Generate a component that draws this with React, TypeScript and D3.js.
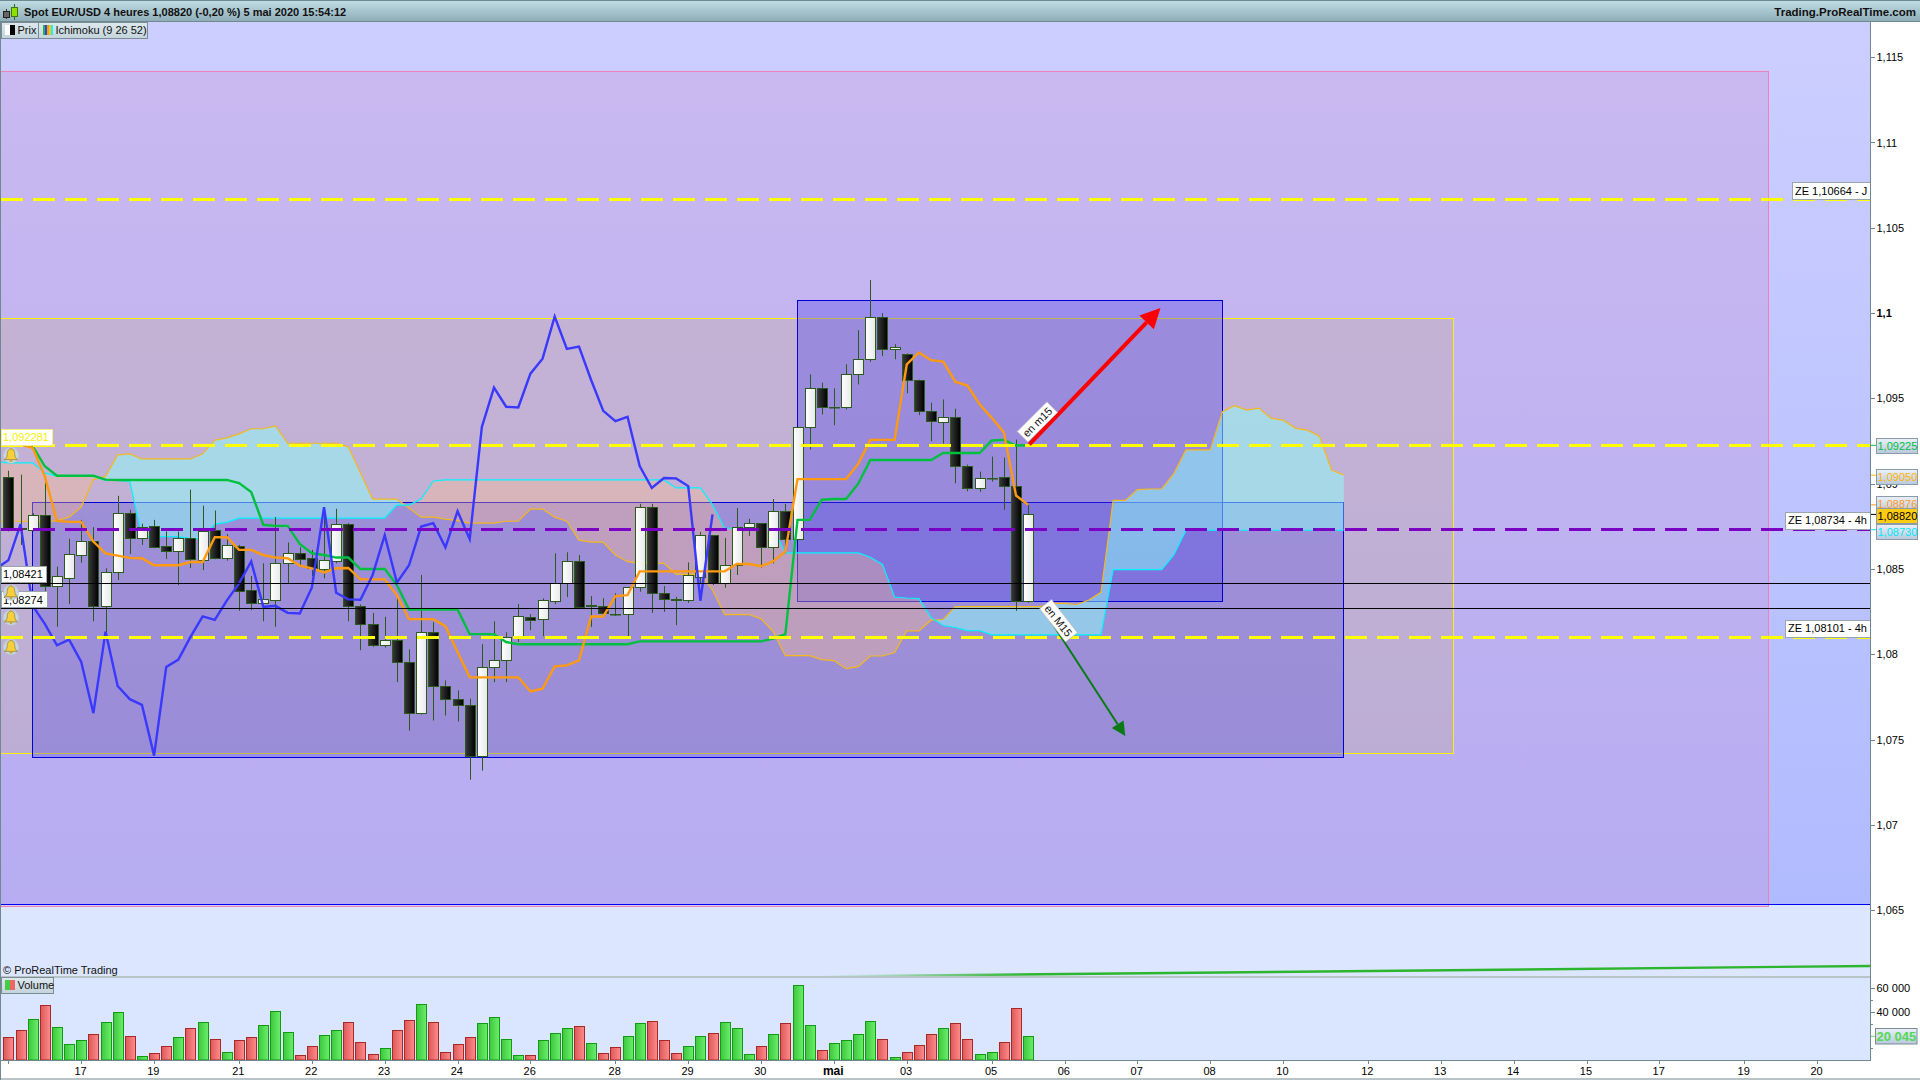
import React from 'react';
import * as d3 from 'd3';

// ---------- DATA (prices in 1e-5 units, index = 4h bar number) ----------
const opens = [109039,108733,108727,108816,108402,108449,108584,108663,108284,108480,108827,108684,108751,108633,108608,108680,108555,108727,108567,108633,108375,108302,108320,108537,108592,108563,108502,108549,108763,108286,108175,108055,108086,107957,107655,108133,107816,107739,107704,107406,107926,107969,108108,108216,108208,108314,108416,108545,108288,108286,108237,108239,108392,108863,108357,108322,108320,108455,108698,108420,108522,108749,108769,108627,108839,108675,109333,109563,109451,109451,109645,109733,109980,109792,109763,109610,109427,109363,109392,109104,108975,109033,109039,108986,108314];
const highs = [109076,109053,108827,109014,108514,108677,108788,108745,108504,108929,108847,108765,108788,108720,108720,108965,108871,108843,108704,108641,108459,108533,108804,108655,108627,108612,108863,108853,108769,108292,108243,108220,108333,108029,108465,108188,107847,107788,107739,108059,108194,108129,108294,108235,108328,108592,108598,108582,108341,108329,108357,108392,108882,108882,108400,108337,108539,108718,108698,108682,108857,108794,108769,108910,108882,109333,109641,109592,109559,109700,109900,110194,110000,109818,109763,109610,109475,109494,109439,109112,109071,109159,109153,109259,108876];
const lows = [108720,108641,108720,108367,108161,108294,108537,108194,108122,108435,108588,108641,108622,108559,108406,108506,108494,108557,108549,108255,108259,108194,108161,108416,108514,108459,108445,108533,108194,108024,108043,108039,107837,107553,107647,107612,107641,107606,107265,107318,107837,107837,108073,108141,108106,108294,108335,108269,108161,108229,108225,108102,108367,108243,108249,108171,108302,108416,108406,108390,108465,108694,108508,108533,108592,108671,109200,109406,109343,109435,109582,109714,109749,109729,109530,109402,109249,109235,109002,108955,108953,109012,108847,108255,108302];
const closes = [108729,108738,108816,108402,108457,108586,108663,108284,108480,108827,108684,108745,108631,108608,108680,108561,108722,108567,108639,108373,108302,108322,108533,108592,108561,108504,108551,108763,108284,108178,108053,108086,107955,107655,108133,107814,107737,107704,107406,107926,107969,108102,108222,108202,108316,108416,108545,108278,108284,108243,108239,108392,108863,108361,108322,108320,108465,108698,108420,108522,108749,108769,108627,108839,108675,109333,109563,109451,109447,109645,109733,109980,109790,109804,109608,109427,109367,109392,109104,108975,109033,109031,108986,108314,108820];

// Ichimoku lines; the first value of each is the bar just before the left edge (index -1)
const chikou = [108504,108551,108763,108284,108178,108053,108086,107955,107655,108133,107814,107737,107704,107406,107926,107969,108102,108222,108202,108316,108416,108545,108278,108284,108243,108239,108392,108863,108361,108322,108320,108465,108698,108420,108522,108749,108769,108627,108839,108675,109333,109563,109451,109447,109645,109733,109980,109790,109804,109608,109427,109367,109392,109104,108975,109033,109031,108986,108314,108820];
const tenkan = [109229,109229,109229,109210,109043,108782,108776,108776,108661,108592,108578,108565,108563,108522,108522,108522,108541,108541,108686,108686,108612,108612,108582,108567,108563,108520,108504,108480,108504,108506,108439,108439,108439,108347,108206,108206,108206,108165,108014,107865,107865,107865,107865,107865,107782,107798,107929,107935,107965,108222,108222,108341,108347,108486,108486,108486,108486,108486,108486,108486,108486,108529,108529,108516,108545,108602,109027,109027,109027,109027,109027,109116,109257,109257,109257,109700,109769,109724,109716,109598,109575,109465,109386,109302,108931,108876];
const kijun = [109229,109229,109229,109220,109102,109047,109047,109047,109047,109024,109022,109022,109022,109022,109022,109022,109022,109022,109022,109022,109004,108951,108759,108753,108753,108647,108592,108582,108567,108567,108500,108500,108500,108406,108263,108263,108263,108263,108263,108118,108118,108118,108072,108059,108059,108059,108059,108059,108059,108059,108059,108059,108059,108076,108076,108076,108076,108076,108076,108076,108076,108076,108076,108076,108092,108118,108788,108788,108906,108910,108910,109000,109139,109139,109139,109139,109139,109139,109180,109180,109180,109180,109253,109257,109224,109225];
const spanA = [108780,108780,108780,108778,108778,108782,108804,108863,109024,109043,109169,109175,109145,109145,109145,109145,109145,109175,109255,109269,109292,109322,109322,109339,109237,109237,109237,109237,109237,109216,109063,108910,108910,108910,108857,108804,108804,108792,108784,108769,108769,108769,108780,108780,108851,108851,108804,108780,108669,108657,108657,108582,108543,108533,108533,108533,108469,108469,108469,108377,108233,108233,108233,108208,108133,107992,107992,107992,107969,107963,107916,107928,107990,107990,108010,108137,108137,108200,108204,108280,108280,108280,108280,108280,108280,108280,108280,108298,108298,108292,108318,108363,108902,108902,108965,108969,108969,109059,109198,109198,109198,109422,109457,109431,109443,109384,109373,109326,109314,109278,109080,109051];
const spanB = [109130,109122,109122,109122,109063,109043,109043,109043,109043,109020,109020,109014,108690,108690,108690,108690,108678,108678,108763,108773,108798,108798,108798,108798,108798,108798,108798,108798,108798,108798,108798,108798,108798,108875,108875,108910,109016,109022,109022,109022,109022,109022,109022,109022,109022,109022,109022,109022,109022,109022,109022,109022,109022,109022,109022,109022,108975,108975,108975,108877,108739,108739,108739,108739,108739,108594,108594,108594,108594,108594,108594,108594,108569,108527,108336,108330,108326,108216,108169,108157,108139,108139,108114,108114,108114,108114,108114,108114,108114,108114,108114,108114,108496,108496,108496,108496,108496,108582,108727,108727,108727,108727,108727,108727,108727,108727,108727,108727,108727,108727,108727,108727];

const volumes = [19200,25000,34200,45800,27500,13300,16700,21700,31700,40000,20000,3300,5800,11700,19200,26700,31700,17500,6700,16700,19200,29200,40800,23300,4200,11700,20800,25000,31700,15000,5000,10000,25000,33300,46700,31700,6700,13300,19200,30800,35800,17500,4200,4200,16700,22500,26700,28300,14200,5800,10800,20000,30800,32500,16700,5800,11700,20000,22500,31700,26700,5000,11700,21700,30800,62500,29200,8300,14200,16700,21700,32500,17500,2500,6700,12500,21700,26700,30800,17500,5000,6700,15000,43300,20045];
const volumeUp = [0,0,1,0,1,1,1,0,1,1,0,1,0,0,1,0,1,0,1,0,0,1,1,1,0,0,1,1,0,0,0,1,0,0,1,0,0,0,0,1,1,1,1,0,1,1,1,0,1,0,0,1,1,0,0,0,1,1,0,1,1,1,0,1,0,1,1,0,1,1,1,1,0,1,0,0,0,1,0,0,1,1,0,0,1];

const priceTicks = [1.115,1.11,1.105,1.1,1.095,1.09,1.085,1.08,1.075,1.07,1.065];
const priceTickLabels = ['1,115','1,11','1,105','1,1','1,095','1,09','1,085','1,08','1,075','1,07','1,065'];
const dateTickBars = [0,6,12,19,25,31,37,43,50,56,62,68,74,81,87,93,99,105,112,118,124,130,136,143,149];
const dateTickLabels = ['','17','19','21','22','23','24','26','28','29','30','mai','03','05','06','07','08','10','12','13','14','15','17','19','20'];
const volumeTickValues = [60000,40000];
const volumeTickLabels = ['60 000','40 000'];
const volumeMinorTicks = [50000,30000,10000];

const zones = [
  { price: 1.10664, color: '#FFFF00', label: 'ZE 1,10664 - J', w: 78 },
  { price: 1.09225, color: '#FFFF00', label: '', w: 0 },
  { price: 1.08734, color: '#7A00C4', label: 'ZE 1,08734 - 4h', w: 85 },
  { price: 1.08101, color: '#FFFF00', label: 'ZE 1,08101 - 4h', w: 85 },
];
const alerts = [
  { price: 1.09225, label: '1,092281', color: '#F5F000', w: 52 },
  { price: 1.08421, label: '1,08421', color: '#000', w: 46 },
  { price: 1.08274, label: '1,08274', color: '#000', w: 47 },
  { price: 1.08101, label: '', color: '#000', w: 0 },
];
const rangeLevels = [1.08421, 1.08274];
const lastValues = [
  { price: 1.09225, label: '1,09225', color: '#00C040', top: 1.09265 },
  { price: 1.0905, label: '1,09050', color: '#FFB400', top: 1.09088 },
  { price: 1.08876, label: '1,08876', color: '#FF9A1E', top: 1.08925 },
  { price: 1.0873, label: '1,08730', color: '#00E8F8', top: 1.08765 },
  { price: 1.0882, label: '1,08820', color: '#000', top: 1.08855, gold: true },
];
const rectangles = [
  { x0: -2, x1: 145, top: 1.11419, bottom: 1.06524, fill: 'rgba(200,140,210,0.30)', stroke: '#F080B8' },
  { x0: -2, x1: 119, top: 1.09971, bottom: 1.07416, fill: 'rgba(200,170,130,0.25)', stroke: '#FFF000' },
  { x0: 2, x1: 110, top: 1.08887, bottom: 1.07393, fill: 'rgba(85,75,220,0.33)', stroke: '#0000D8' },
  { x0: 65, x1: 100, top: 1.10071, bottom: 1.08312, fill: 'rgba(70,60,235,0.33)', stroke: '#0000D8' },
];
const arrows = [
  { from: [84.1, 1.0923], to: [94.9, 1.1003], color: '#FF0000', width: 4, head: 20, label: 'en m15', off: [8, -22.5], angle: -45 },
  { from: [85.1, 1.08279], to: [92, 1.07521], color: '#0A7A14', width: 2, head: 14, label: 'en M15', off: [17, 14], angle: 52 },
];
const title = 'Spot EUR/USD 4 heures 1,08820 (-0,20 %) 5 mai 2020 15:54:12';
const siteName = 'Trading.ProRealTime.com';

// ---------- LAYOUT ----------
const W = 1920, H = 1080;
const plotL = 1, plotR = 1870, plotT = 21, plotB = 976, volT = 978, volB = 1060;
const SANS = '"Liberation Sans", Arial, sans-serif';

const x = d3.scaleLinear().domain([0, 110]).range([8.4, 1343.8]);
const y = d3.scaleLinear().domain([1.08, 1.115]).range([654.3, 57.2]);
const yP = (v: number) => y(v / 1e5);
const yVol = d3.scaleLinear().domain([0, 60000]).range([1060.3, 988.3]);
const crisp = (v: number) => Math.floor(v) + 0.5;

const lineFrom = (vals: number[]) =>
  d3.line<number>().x((_, i) => x(i - 1)).y(v => yP(v))(vals) as string;

// cloud polygons split at each crossing of the two spans
function cloudPaths() {
  const up: [number, number, number][][] = [];
  const down: [number, number, number][][] = [];
  let cur: [number, number, number][] = [];
  let curUp = spanA[0] > spanB[0];
  const flush = () => { if (cur.length > 1) (curUp ? up : down).push(cur); cur = []; };
  for (let i = 0; i < spanA.length; i++) {
    const isUp = spanA[i] >= spanB[i];
    if (i > 0 && isUp !== curUp) {
      const d0 = spanA[i - 1] - spanB[i - 1], d1 = spanA[i] - spanB[i];
      const t = d0 / (d0 - d1);
      const v = spanA[i - 1] + t * (spanA[i] - spanA[i - 1]);
      cur.push([i - 1 + t, v, v]);
      flush();
      curUp = isUp;
      cur.push([i - 1 + t, v, v]);
    }
    cur.push([i, spanA[i], spanB[i]]);
  }
  flush();
  const area = d3.area<[number, number, number]>().x(d => x(d[0] - 1)).y0(d => yP(d[1])).y1(d => yP(d[2]));
  return { up: up.map(s => area(s) as string), down: down.map(s => area(s) as string) };
}

function Bell({ cx, cy }: { cx: number; cy: number }) {
  return (
    <g transform={`translate(${cx},${cy})`}>
      <circle r={8} fill="url(#bellBg)" />
      <path d="M0,-6.5 C2.8,-6.5 3.8,-3.5 3.9,-0.5 C4,2 5,3.2 6.5,4.3 L-6.5,4.3 C-5,3.2 -4,2 -3.9,-0.5 C-3.8,-3.5 -2.8,-6.5 0,-6.5Z" fill="#F6CF3A" stroke="#8C7A2A" strokeWidth={0.7} />
      <circle cy={5.3} r={1.4} fill="#C9A52A" />
    </g>
  );
}

export default function App() {
  const cloud = cloudPaths();
  const bodyW = 10;
  return (
    <svg width={W} height={H} viewBox={`0 0 ${W} ${H}`} style={{ position: 'fixed', left: 0, top: 0, display: 'block', background: '#fff' }} fontFamily={SANS}>
      <defs>
        <linearGradient id="titleBg" x1="0" y1="0" x2="0" y2="1"><stop offset="0" stopColor="#C2DEE6" /><stop offset="1" stopColor="#8FAEB8" /></linearGradient>
        <linearGradient id="plotBg" x1="0" y1="0" x2="0" y2="1"><stop offset="0" stopColor="#CCCEFF" /><stop offset="1" stopColor="#B0BBFF" /></linearGradient>
        <linearGradient id="blackBody" x1="0" y1="0" x2="1" y2="0"><stop offset="0" stopColor="#383838" /><stop offset="1" stopColor="#000" /></linearGradient>
        <linearGradient id="whiteBody" x1="0" y1="0" x2="1" y2="0"><stop offset="0" stopColor="#fff" /><stop offset="1" stopColor="#E8E8E8" /></linearGradient>
        <linearGradient id="greenBar" x1="0" y1="0" x2="1" y2="0"><stop offset="0" stopColor="#3CC83C" /><stop offset="1" stopColor="#6CEE6C" /></linearGradient>
        <linearGradient id="redBar" x1="0" y1="0" x2="1" y2="0"><stop offset="0" stopColor="#DC5858" /><stop offset="1" stopColor="#FF8C8C" /></linearGradient>
        <linearGradient id="valBox" x1="0" y1="0" x2="0" y2="1"><stop offset="0" stopColor="#EAF0FA" /><stop offset="1" stopColor="#B8C8DC" /></linearGradient>
        <linearGradient id="legendBg" x1="0" y1="0" x2="0" y2="1"><stop offset="0" stopColor="#DCE8EE" /><stop offset="1" stopColor="#C4D4DC" /></linearGradient>
        <linearGradient id="trend" gradientUnits="userSpaceOnUse" x1="820" y1="0" x2="1870" y2="0"><stop offset="0" stopColor="#2DB52D" stopOpacity={0} /><stop offset="0.2" stopColor="#2DB52D" /><stop offset="1" stopColor="#2DB52D" /></linearGradient>
        <radialGradient id="bellBg"><stop offset="0" stopColor="#F4F6FA" /><stop offset="1" stopColor="#B8CAD8" /></radialGradient>
        <clipPath id="plotClip"><rect x={plotL} y={plotT} width={plotR - plotL} height={plotB - plotT} /></clipPath>
      </defs>

      {/* panels */}
      <rect x={plotL} y={plotT} width={plotR - plotL} height={plotB - plotT} fill="#DCE6FF" />
      <rect x={plotL} y={plotT} width={plotR - plotL} height={y(1.06535) - plotT} fill="url(#plotBg)" />
      <rect x={plotL} y={volT} width={plotR - plotL} height={volB - volT} fill="#DAE5FF" />

      <g clipPath="url(#plotClip)">
        {rectangles.map((r, i) => (
          <rect key={i} x={crisp(x(r.x0))} y={crisp(y(r.top))} width={crisp(x(r.x1)) - crisp(x(r.x0))} height={crisp(y(r.bottom)) - crisp(y(r.top))} fill={r.fill} stroke={r.stroke} strokeWidth={1} />
        ))}

        {cloud.up.map((d, i) => <path key={i} d={d} fill="rgba(140,255,250,0.5)" />)}
        {cloud.down.map((d, i) => <path key={i} d={d} fill="rgba(255,190,140,0.35)" />)}
        <path d={lineFrom(spanA)} fill="none" stroke="#F4B81C" strokeWidth={1.2} />
        <path d={lineFrom(spanB)} fill="none" stroke="#00F4FF" strokeWidth={1.2} />

        {/* candles */}
        {opens.map((o, i) => {
          const c = closes[i];
          const cx = Math.round(x(i)) + 0.5;
          const top = Math.round(yP(Math.max(o, c))) + 0.5;
          const bot = Math.round(yP(Math.min(o, c))) + 0.5;
          const up = c >= o;
          return (
            <g key={i}>
              <line x1={cx} x2={cx} y1={yP(highs[i])} y2={yP(lows[i])} stroke="#2B5A1A" strokeWidth={1} />
              <rect x={cx - bodyW / 2} y={top} width={bodyW} height={Math.max(bot - top, 0.5)} fill={up ? 'url(#whiteBody)' : 'url(#blackBody)'} stroke="#2B5A1A" strokeWidth={1} />
            </g>
          );
        })}

        <path d={lineFrom(kijun)} fill="none" stroke="#00C040" strokeWidth={2.4} />
        <path d={lineFrom(tenkan)} fill="none" stroke="#FF9A10" strokeWidth={2.4} />
        <path d={lineFrom(chikou)} fill="none" stroke="#3838FF" strokeWidth={2.4} />

        {/* horizontal levels */}
        {rangeLevels.map((p, i) => (
          <line key={i} x1={plotL} x2={plotR} y1={crisp(y(p) + 0.6)} y2={crisp(y(p) + 0.6)} stroke="#000" strokeWidth={1} />
        ))}
        {zones.map((z, i) => (
          <line key={i} x1={plotL} x2={plotR} y1={crisp(y(z.price))} y2={crisp(y(z.price))} stroke={z.color} strokeWidth={3} strokeDasharray="22 10" />
        ))}
        <line x1={plotL} x2={plotR} y1={crisp(y(1.06535))} y2={crisp(y(1.06535))} stroke="#0000F0" strokeWidth={1} />

        {/* arrows */}
        {arrows.map((a, i) => {
          const x0 = x(a.from[0]), y0 = y(a.from[1]), x1 = x(a.to[0]), y1 = y(a.to[1]);
          const ang = Math.atan2(y1 - y0, x1 - x0);
          const h = a.head;
          const bx = x1 - Math.cos(ang) * h, by = y1 - Math.sin(ang) * h;
          const nx = -Math.sin(ang) * h * 0.5, ny = Math.cos(ang) * h * 0.5;
          return (
            <g key={i}>
              <line x1={x0} y1={y0} x2={bx} y2={by} stroke={a.color} strokeWidth={a.width} />
              <polygon points={`${x1},${y1} ${bx + nx},${by + ny} ${bx - nx},${by - ny}`} fill={a.color} />
              <g transform={`translate(${x0 + a.off[0]},${y0 + a.off[1]}) rotate(${a.angle})`}>
                <rect x={-21} y={-7.5} width={42} height={15} fill="#fff" stroke="#BBB" strokeWidth={0.7} />
                <text textAnchor="middle" y={4} fontSize={11} fill="#111">{a.label}</text>
              </g>
            </g>
          );
        })}

        {/* zone labels */}
        {zones.filter(z => z.label).map((z, i) => (
          <g key={i}>
            <rect x={plotR - z.w + 0.5} y={crisp(y(z.price)) - 17} width={z.w} height={17} fill="#fff" stroke="#9AA4AC" strokeWidth={1} />
            <text x={plotR - z.w + 3} y={y(z.price) - 5} fontSize={11} fill="#000">{z.label}</text>
          </g>
        ))}

        {/* alert labels */}
        {alerts.filter(a => a.label).map((a, i) => (
          <g key={i}>
            <rect x={1.5} y={crisp(y(a.price)) - 16} width={a.w - 1} height={16} fill="#fff" stroke={i === 0 ? '#F5F080' : '#9AA4AC'} strokeWidth={1} />
            <text x={3} y={y(a.price) - 4} fontSize={11} fill={a.color}>{a.label}</text>
          </g>
        ))}
        {alerts.map((a, i) => <Bell key={i} cx={11} cy={y(a.price) + 10} />)}

        <text x={3} y={974} fontSize={11} fill="#111">© ProRealTime Trading</text>
        <line x1={820} y1={976.5} x2={1870} y2={966} stroke="url(#trend)" strokeWidth={2.4} />
      </g>

      {/* volume */}
      {volumes.map((v, i) => {
        const cx = Math.round(x(i)) + 0.5;
        const t = Math.round(yVol(v)) + 0.5;
        return (
          <rect key={i} x={cx - 5} y={t} width={10} height={volB - t} fill={volumeUp[i] ? 'url(#greenBar)' : 'url(#redBar)'} stroke={volumeUp[i] ? '#129A12' : '#A82828'} strokeWidth={1} />
        );
      })}

      {/* panel frames */}
      <line x1={0} x2={plotR} y1={977} y2={977} stroke="#708890" strokeWidth={1} />
      <line x1={0} x2={plotR} y1={1060.5} y2={1060.5} stroke="#708890" strokeWidth={1} />
      <line x1={1870.5} x2={1870.5} y1={21} y2={1061} stroke="#708890" strokeWidth={1} />
      <line x1={0} x2={W} y1={1079} y2={1079} stroke="#708890" strokeWidth={1} />
      <rect x={0} y={0} width={1} height={H} fill="#708890" />

      {/* title bar */}
      <rect x={0} y={0} width={W} height={21} fill="url(#titleBg)" />
      <line x1={0} x2={W} y1={21.5} y2={21.5} stroke="#708890" strokeWidth={1} />
      <line x1={0} x2={W} y1={0.5} y2={0.5} stroke="#708890" strokeWidth={1} />
      <g>
        <line x1={6.5} x2={6.5} y1={9} y2={19} stroke="#333" />
        <rect x={3.5} y={11.5} width={6} height={6} fill="#666" stroke="#222" />
        <line x1={14.5} x2={14.5} y1={4} y2={20} stroke="#2B6A1A" />
        <rect x={11.5} y={7.5} width={6} height={9} fill="#8EE000" stroke="#3A7A10" />
      </g>
      <text x={24} y={16} fontSize={11} fontWeight="bold" fill="#111">{title}</text>
      <text x={1916} y={16} textAnchor="end" fontSize={11.5} fontWeight="bold" fill="#111">{siteName}</text>

      {/* legends */}
      <rect x={1.5} y={22.5} width={37} height={16} fill="url(#legendBg)" stroke="#7A8C94" />
      <rect x={5} y={25} width={5} height={10} fill="#fff" />
      <rect x={10} y={25} width={5} height={10} fill="#000" />
      <text x={17.5} y={34} fontSize={11} fill="#111">Prix</text>
      <rect x={38.5} y={22.5} width={109} height={16} fill="url(#legendBg)" stroke="#7A8C94" />
      {['#22B24C', '#3344DD', '#FF9A10', '#FFC020', '#00FFFF'].map((c, i) => (
        <rect key={i} x={43 + i * 2} y={25} width={2} height={10} fill={c} />
      ))}
      <text x={55.5} y={34} fontSize={11} fill="#111">Ichimoku (9 26 52)</text>
      <rect x={1.5} y={977.5} width={52} height={16} fill="url(#legendBg)" stroke="#7A8C94" />
      <rect x={5} y={980} width={5} height={10} fill="#44CC44" />
      <rect x={10} y={980} width={5} height={10} fill="#EE6666" />
      <text x={17.5} y={989} fontSize={11} fill="#111">Volume</text>

      {/* price axis */}
      {priceTicks.map((p, i) => (
        <g key={i}>
          <line x1={1871} x2={1875} y1={Math.round(y(p)) + 0.5} y2={Math.round(y(p)) + 0.5} stroke="#708890" />
          <text x={1876.5} y={y(p) + 4} fontSize={11} fontWeight={p === 1.1 ? 'bold' : 'normal'} fill="#000">{priceTickLabels[i]}</text>
        </g>
      ))}
      {lastValues.map((l, i) => {
        const t = y(l.top);
        return (
          <g key={i}>
            <line x1={1871} x2={1876} y1={y(l.price)} y2={y(l.price)} stroke={l.gold ? '#000' : l.color} />
            <rect x={1876.5} y={Math.round(t) + 0.5} width={41} height={15} fill={l.gold ? '#FFCC14' : 'url(#valBox)'} stroke="#8A9CA8" />
            <text x={1877.5} y={Math.round(t) + 12} fontSize={11} fill={l.color}>{l.label}</text>
          </g>
        );
      })}

      {/* volume axis */}
      {volumeTickValues.map((v, i) => (
        <g key={i}>
          <line x1={1871} x2={1875} y1={Math.round(yVol(v)) + 0.5} y2={Math.round(yVol(v)) + 0.5} stroke="#708890" />
          <text x={1876.5} y={yVol(v) + 4} fontSize={11} fill="#000">{volumeTickLabels[i]}</text>
        </g>
      ))}
      {volumeMinorTicks.map((v, i) => (
        <line key={i} x1={1871} x2={1873} y1={Math.round(yVol(v)) + 0.5} y2={Math.round(yVol(v)) + 0.5} stroke="#708890" />
      ))}
      <line x1={1871} x2={1876} y1={yVol(20045)} y2={yVol(20045)} stroke="#55D855" />
      <rect x={1875.5} y={1028.5} width={41.5} height={15.5} fill="url(#valBox)" stroke="#7A8C94" />
      <text x={1876.5} y={1041} fontSize={13} fontWeight="bold" fill="#55D855">20 045</text>

      {/* date axis */}
      {dateTickBars.map((b, i) => (
        <g key={i}>
          <line x1={Math.round(x(b)) + 0.5} x2={Math.round(x(b)) + 0.5} y1={1061} y2={1064} stroke="#708890" />
          <text x={x(b) - 0.7} y={1075} textAnchor="middle" fontSize={dateTickLabels[i] === 'mai' ? 12 : 11} fontWeight={dateTickLabels[i] === 'mai' ? 'bold' : 'normal'} fill="#000">{dateTickLabels[i]}</text>
        </g>
      ))}
    </svg>
  );
}
